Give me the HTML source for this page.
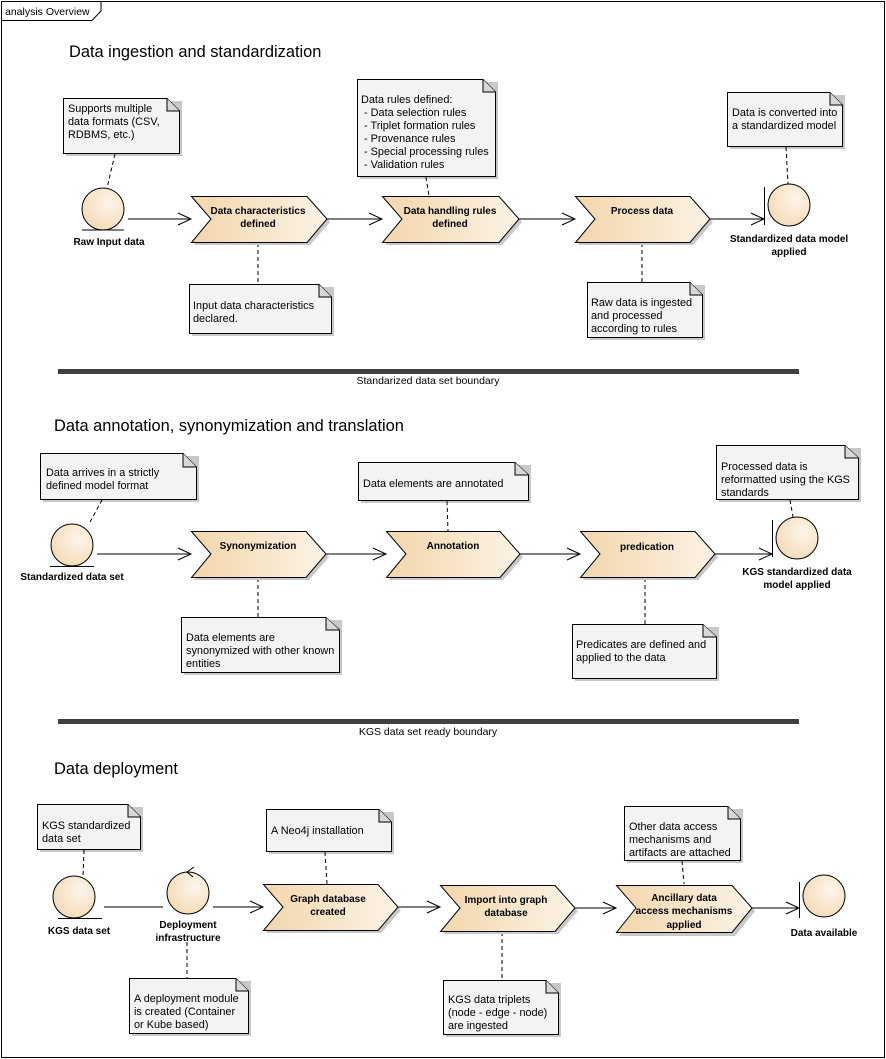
<!DOCTYPE html>
<html><head><meta charset="utf-8"><style>
html,body{margin:0;padding:0;background:#fff}
svg{display:block}
text{font-family:"Liberation Sans",sans-serif;font-size:10px;fill:#000}
.t{font-size:16.4px}
.b{font-weight:bold;font-size:10px}
.n{font-size:10.9px}
</style></head><body>
<svg width="886" height="1059" viewBox="0 0 886 1059" xmlns="http://www.w3.org/2000/svg">
<defs>
<linearGradient id="cg" x1="0" x2="1" y1="0" y2="0"><stop offset="0" stop-color="#f3d6ab"/><stop offset="1" stop-color="#fcf3e6"/></linearGradient>
<radialGradient id="rg" cx="0.65" cy="0.35" r="0.8"><stop offset="0" stop-color="#fdf5ea"/><stop offset="1" stop-color="#f3d8b0"/></radialGradient>
</defs>
<rect x="1.5" y="1.5" width="883" height="1056" fill="#fff" stroke="#000"/>
<path d="M1.5 20.5 H92 L101 11 V1.5" fill="none" stroke="#000"/>
<text x="5" y="15" style="font-size:10.5px">analysis Overview</text>

<!-- SECTION 1 -->
<text x="69" y="57" class="t">Data ingestion and standardization</text>

<g stroke="#000" stroke-width="1">
<rect x="66" y="101" width="116" height="55" fill="#c8c8c8" stroke="none"/>
<path d="M63.5 98.5 H167 L179.5 111 V153.5 H63.5 Z" fill="#f5f2f5"/><path d="M167 98.5 V111 H179.5" fill="#d8d8d8"/>
<rect x="360" y="82" width="138" height="97" fill="#c8c8c8" stroke="none"/>
<path d="M357.5 79.5 H483 L495.5 92 V176.5 H357.5 Z" fill="#f5f2f5"/><path d="M483 79.5 V92 H495.5" fill="#d8d8d8"/>
<rect x="730" y="95" width="115" height="54" fill="#c8c8c8" stroke="none"/>
<path d="M727.5 92.5 H830 L842.5 105 V146.5 H727.5 Z" fill="#f5f2f5"/><path d="M830 92.5 V105 H842.5" fill="#d8d8d8"/>
<rect x="192" y="287" width="142" height="49" fill="#c8c8c8" stroke="none"/>
<path d="M189.5 284.5 H319 L331.5 297 V333.5 H189.5 Z" fill="#f5f2f5"/><path d="M319 284.5 V297 H331.5" fill="#d8d8d8"/>
<rect x="590" y="285" width="115" height="55" fill="#c8c8c8" stroke="none"/>
<path d="M587.5 282.5 H690 L702.5 295 V337.5 H587.5 Z" fill="#f5f2f5"/><path d="M690 282.5 V295 H702.5" fill="#d8d8d8"/>
</g>
<text x="68" y="112" class="n">Supports multiple</text>
<text x="68" y="125" class="n">data formats (CSV,</text>
<text x="68" y="138" class="n">RDBMS, etc.)</text>
<text x="361" y="103" class="n">Data rules defined:</text>
<text x="364" y="116" class="n">- Data selection rules</text>
<text x="364" y="129" class="n">- Triplet formation rules</text>
<text x="364" y="142" class="n">- Provenance rules</text>
<text x="364" y="155" class="n">- Special processing rules</text>
<text x="364" y="168" class="n">- Validation rules</text>
<text x="732" y="116" class="n">Data is converted into</text>
<text x="732" y="129" class="n">a standardized model</text>
<text x="193" y="309" class="n">Input data characteristics</text>
<text x="193" y="322" class="n">declared.</text>
<text x="591" y="306" class="n">Raw data is ingested</text>
<text x="591" y="319" class="n">and processed</text>
<text x="591" y="332" class="n">according to rules</text>

<g stroke="#000" stroke-dasharray="4,3" fill="none">
<path d="M115 154 L107 188"/><path d="M426 177 L429 196"/><path d="M786 147 L788 184"/>
<path d="M258 243 V284"/><path d="M642 243 V282"/>
</g>

<g stroke="#000">
<circle cx="103" cy="209" r="21" fill="url(#rg)"/>
<path d="M82 230 H124"/>
<circle cx="789" cy="205" r="21" fill="url(#rg)"/>
<path d="M764.5 187 V225"/>
</g>
<text x="109" y="245" class="b" text-anchor="middle">Raw Input data</text>
<text x="789" y="242" class="b" text-anchor="middle">Standardized data model</text>
<text x="789" y="255" class="b" text-anchor="middle">applied</text>

<g stroke="#000">
<path d="M194 199 H310 L330 222 L310 245 H194 L214 222 Z" fill="#c8c8c8" stroke="none"/>
<path d="M191.5 196.5 H307 L327 219 L307 242.5 H191.5 L211 219 Z" fill="url(#cg)"/>
<path d="M385 199 H502 L522 222 L502 245 H385 L405 222 Z" fill="#c8c8c8" stroke="none"/>
<path d="M382.5 196.5 H499 L519 219 L499 242.5 H382.5 L402 219 Z" fill="url(#cg)"/>
<path d="M578 199 H693 L713 222 L693 245 H578 L598 222 Z" fill="#c8c8c8" stroke="none"/>
<path d="M575.5 196.5 H690 L710 219 L690 242.5 H575.5 L595 219 Z" fill="url(#cg)"/>
</g>
<text x="258" y="214" class="b" text-anchor="middle">Data characteristics</text>
<text x="258" y="227" class="b" text-anchor="middle">defined</text>
<text x="450" y="214" class="b" text-anchor="middle">Data handling rules</text>
<text x="450" y="227" class="b" text-anchor="middle">defined</text>
<text x="642" y="214" class="b" text-anchor="middle">Process data</text>

<g stroke="#000" fill="none">
<path d="M128 219 H190 M178 213 L191 219 L178 225"/>
<path d="M327 219 H381 M369 213 L382 219 L369 225"/>
<path d="M519 219 H574 M562 213 L575 219 L562 225"/>
<path d="M710 219 H764 M751 213 L764 219 L751 225"/>
</g>

<rect x="58" y="369" width="741" height="5" fill="#404040"/>
<text x="428" y="384" text-anchor="middle" style="font-size:10.5px">Standarized data set boundary</text>

<!-- SECTION 2 -->
<text x="54" y="431" class="t">Data annotation, synonymization and translation</text>
<g stroke="#000">
<rect x="43" y="456" width="156" height="46" fill="#c8c8c8" stroke="none"/>
<path d="M40.5 453.5 H183 L196.5 467 V499.5 H40.5 Z" fill="#f5f2f5"/><path d="M183 453.5 V467 H196.5" fill="#d8d8d8"/>
<rect x="361" y="465" width="170" height="38" fill="#c8c8c8" stroke="none"/>
<path d="M358.5 462.5 H515 L528.5 475 V500.5 H358.5 Z" fill="#f5f2f5"/><path d="M515 462.5 V475 H528.5" fill="#d8d8d8"/>
<rect x="719" y="448" width="142" height="54" fill="#c8c8c8" stroke="none"/>
<path d="M716.5 445.5 H845 L858.5 458 V499.5 H716.5 Z" fill="#f5f2f5"/><path d="M845 445.5 V458 H858.5" fill="#d8d8d8"/>
<rect x="184" y="620" width="158" height="55" fill="#c8c8c8" stroke="none"/>
<path d="M181.5 617.5 H326 L339.5 630 V672.5 H181.5 Z" fill="#f5f2f5"/><path d="M326 617.5 V630 H339.5" fill="#d8d8d8"/>
<rect x="575" y="627" width="144" height="54" fill="#c8c8c8" stroke="none"/>
<path d="M572.5 624.5 H703 L716.5 637 V678.5 H572.5 Z" fill="#f5f2f5"/><path d="M703 624.5 V637 H716.5" fill="#d8d8d8"/>
</g>
<text x="46" y="476" class="n">Data arrives in a strictly</text>
<text x="46" y="489" class="n">defined model format</text>
<text x="363" y="487" class="n">Data elements are annotated</text>
<text x="721" y="470" class="n">Processed data is</text>
<text x="721" y="483" class="n">reformatted using the KGS</text>
<text x="721" y="496" class="n">standards</text>
<text x="186" y="641" class="n">Data elements are</text>
<text x="186" y="654" class="n">synonymized with other known</text>
<text x="186" y="667" class="n">entities</text>
<text x="576" y="648" class="n">Predicates are defined and</text>
<text x="576" y="661" class="n">applied to the data</text>

<g stroke="#000" stroke-dasharray="4,3" fill="none">
<path d="M102 500 L89 524"/><path d="M447 501 L448 531"/><path d="M790 500 L793 517"/>
<path d="M258 578 V617"/><path d="M645 578 V624"/>
</g>
<g stroke="#000">
<circle cx="72" cy="545" r="21" fill="url(#rg)"/>
<path d="M50 566.5 H94"/>
<circle cx="797" cy="538" r="21" fill="url(#rg)"/>
<path d="M772.5 520 V557"/>
</g>
<text x="72" y="580" class="b" text-anchor="middle">Standardized data set</text>
<text x="797" y="575" class="b" text-anchor="middle">KGS standardized data</text>
<text x="797" y="588" class="b" text-anchor="middle">model applied</text>

<g stroke="#000">
<path d="M194 534 H309 L329 557 L309 580 H194 L214 557 Z" fill="#c8c8c8" stroke="none"/>
<path d="M191.5 531.5 H306 L326 554 L306 577.5 H191.5 L211 554 Z" fill="url(#cg)"/>
<path d="M389 534 H503 L523 557 L503 580 H389 L409 557 Z" fill="#c8c8c8" stroke="none"/>
<path d="M386.5 531.5 H500 L520 554 L500 577.5 H386.5 L406 554 Z" fill="url(#cg)"/>
<path d="M583 534 H698 L718 557 L698 580 H583 L603 557 Z" fill="#c8c8c8" stroke="none"/>
<path d="M580.5 531.5 H695 L715 554 L695 577.5 H580.5 L600 554 Z" fill="url(#cg)"/>
</g>
<text x="258" y="549" class="b" text-anchor="middle">Synonymization</text>
<text x="453" y="549" class="b" text-anchor="middle">Annotation</text>
<text x="647" y="550" class="b" text-anchor="middle">predication</text>
<g stroke="#000" fill="none">
<path d="M97 554 H190 M178 548 L191 554 L178 560"/>
<path d="M326 554 H385 M373 548 L386 554 L373 560"/>
<path d="M520 554 H579 M567 548 L580 554 L567 560"/>
<path d="M715 554 H772 M759 548 L772 554 L759 560"/>
</g>

<rect x="58" y="719" width="741" height="5" fill="#404040"/>
<text x="428" y="735" text-anchor="middle" style="font-size:10.5px">KGS data set ready boundary</text>

<!-- SECTION 3 -->
<text x="54" y="774" class="t">Data deployment</text>
<g stroke="#000">
<rect x="40" y="807" width="103" height="45" fill="#c8c8c8" stroke="none"/>
<path d="M37.5 804.5 H128 L140.5 817 V849.5 H37.5 Z" fill="#f5f2f5"/><path d="M128 804.5 V817 H140.5" fill="#d8d8d8"/>
<rect x="269" y="812" width="125" height="42" fill="#c8c8c8" stroke="none"/>
<path d="M266.5 809.5 H379 L391.5 822 V851.5 H266.5 Z" fill="#f5f2f5"/><path d="M379 809.5 V822 H391.5" fill="#d8d8d8"/>
<rect x="627" y="809" width="116" height="54" fill="#c8c8c8" stroke="none"/>
<path d="M624.5 806.5 H728 L740.5 819 V860.5 H624.5 Z" fill="#f5f2f5"/><path d="M728 806.5 V819 H740.5" fill="#d8d8d8"/>
<rect x="132" y="981" width="119" height="55" fill="#c8c8c8" stroke="none"/>
<path d="M129.5 978.5 H236 L248.5 991 V1033.5 H129.5 Z" fill="#f5f2f5"/><path d="M236 978.5 V991 H248.5" fill="#d8d8d8"/>
<rect x="446" y="983" width="115" height="54" fill="#c8c8c8" stroke="none"/>
<path d="M443.5 980.5 H546 L558.5 993 V1034.5 H443.5 Z" fill="#f5f2f5"/><path d="M546 980.5 V993 H558.5" fill="#d8d8d8"/>
</g>
<text x="42" y="829" class="n">KGS standardized</text>
<text x="42" y="842" class="n">data set</text>
<text x="271" y="834" class="n">A Neo4j installation</text>
<text x="629" y="830" class="n">Other data access</text>
<text x="629" y="843" class="n">mechanisms and</text>
<text x="629" y="856" class="n">artifacts are attached</text>
<text x="134" y="1002" class="n">A deployment module</text>
<text x="134" y="1015" class="n">is created (Container</text>
<text x="134" y="1028" class="n">or Kube based)</text>
<text x="448" y="1003" class="n">KGS data triplets</text>
<text x="448" y="1016" class="n">(node - edge - node)</text>
<text x="448" y="1029" class="n">are ingested</text>

<g stroke="#000" stroke-dasharray="4,3" fill="none">
<path d="M84 850 L83 876"/><path d="M325 852 L327 884"/><path d="M682 861 L684 884"/>
<path d="M187 942 V978"/><path d="M502 932 V980"/>
</g>
<g stroke="#000" fill="none">
<circle cx="74" cy="897" r="21" fill="url(#rg)"/>
<path d="M58 918.5 H102"/>
<circle cx="188" cy="893" r="21" fill="url(#rg)"/>
<path d="M194 867 L187 872 L193 877"/>
<circle cx="824" cy="896" r="21" fill="url(#rg)"/>
<path d="M799.5 882 V918"/>
</g>
<text x="79" y="934" class="b" text-anchor="middle">KGS data set</text>
<text x="188" y="928" class="b" text-anchor="middle">Deployment</text>
<text x="188" y="941" class="b" text-anchor="middle">infrastructure</text>
<text x="824" y="936" class="b" text-anchor="middle">Data available</text>

<g stroke="#000">
<path d="M266 887 H381 L401 910 L381 933 H266 L286 910 Z" fill="#c8c8c8" stroke="none"/>
<path d="M263.5 884.5 H378 L398 907 L378 930.5 H263.5 L283 907 Z" fill="url(#cg)"/>
<path d="M443 888 H558 L578 911 L558 934 H443 L463 911 Z" fill="#c8c8c8" stroke="none"/>
<path d="M440.5 885.5 H555 L575 908 L555 931.5 H440.5 L460 908 Z" fill="url(#cg)"/>
<path d="M619 888 H735 L755 911 L735 936 H619 L639 911 Z" fill="#c8c8c8" stroke="none"/>
<path d="M616.5 885.5 H732 L752 908 L732 932.5 H616.5 L636 908 Z" fill="url(#cg)"/>
</g>
<text x="328" y="902" class="b" text-anchor="middle">Graph database</text>
<text x="328" y="915" class="b" text-anchor="middle">created</text>
<text x="506" y="903" class="b" text-anchor="middle">Import into graph</text>
<text x="506" y="916" class="b" text-anchor="middle">database</text>
<text x="684" y="901" class="b" text-anchor="middle">Ancillary data</text>
<text x="684" y="914" class="b" text-anchor="middle">access mechanisms</text>
<text x="684" y="928" class="b" text-anchor="middle">applied</text>
<g stroke="#000" fill="none">
<path d="M104 907 H163"/>
<path d="M213 907 H262 M250 901 L263 907 L250 913"/>
<path d="M398 907 H439 M427 901 L440 907 L427 913"/>
<path d="M575 908 H615 M603 902 L616 908 L603 914"/>
<path d="M752 908 H799 M786 902 L799 908 L786 914"/>
</g>
</svg>
</body></html>
